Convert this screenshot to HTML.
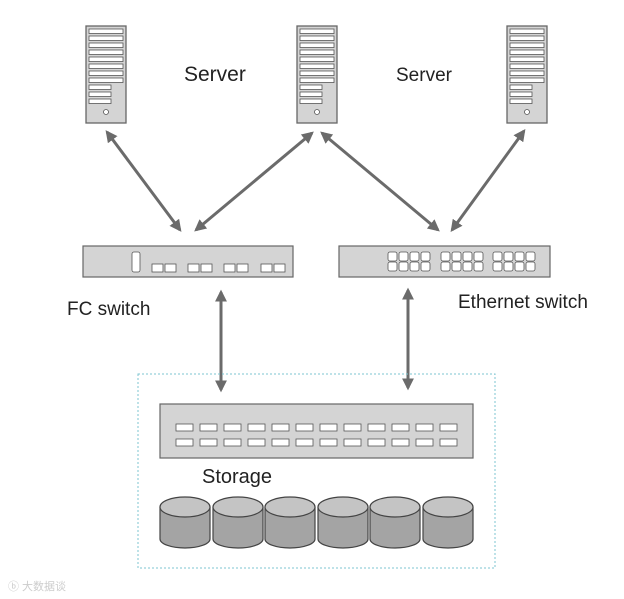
<!DOCTYPE html>
<html><head><meta charset="utf-8"><style>
html,body{margin:0;padding:0;background:#fff;}
svg{display:block}
text{font-family:"Liberation Sans","Noto Sans CJK SC",sans-serif;fill:#222}
</style></head><body>
<svg width="624" height="599" viewBox="0 0 624 599" xmlns="http://www.w3.org/2000/svg">
<defs>
<marker id="ah" viewBox="0 0 10 10" refX="8" refY="5" markerWidth="4" markerHeight="4" orient="auto-start-reverse">
<path d="M0,0 L10,5 L0,10 z" fill="#6b6b6b"/></marker>
<g id="srv">
<rect x="0" y="0" width="40" height="97" fill="#d4d4d4" stroke="#666" stroke-width="1.3"/>
<g fill="#fff" stroke="#555" stroke-width="0.8">
<rect x="3" y="3" width="34" height="4.5"/><rect x="3" y="10" width="34" height="4.5"/>
<rect x="3" y="17" width="34" height="4.5"/><rect x="3" y="24" width="34" height="4.5"/>
<rect x="3" y="31" width="34" height="4.5"/><rect x="3" y="38" width="34" height="4.5"/>
<rect x="3" y="45" width="34" height="4.5"/><rect x="3" y="52" width="34" height="4.5"/>
<rect x="3" y="59" width="22" height="4.5"/><rect x="3" y="66" width="22" height="4.5"/>
<rect x="3" y="73" width="22" height="4.5"/>
<circle cx="20" cy="86" r="2.5"/>
</g></g>
<g id="cyl">
<path d="M0,10 L0,42 A25,9 0 0 0 50,42 L50,10" fill="#a4a4a4" stroke="#444" stroke-width="1.2"/>
<ellipse cx="25" cy="10" rx="25" ry="10" fill="#c4c4c4" stroke="#444" stroke-width="1.2"/>
</g>
</defs>

<use href="#srv" x="86" y="26"/>
<use href="#srv" x="297" y="26"/>
<use href="#srv" x="507" y="26"/>

<text x="184" y="81" font-size="21">Server</text>
<text x="396" y="81" font-size="19">Server</text>

<g stroke="#6b6b6b" stroke-width="3" marker-start="url(#ah)" marker-end="url(#ah)">
<line x1="107" y1="132" x2="180" y2="230"/>
<line x1="312" y1="133" x2="196" y2="230"/>
<line x1="322" y1="133" x2="438" y2="230"/>
<line x1="524" y1="131" x2="452" y2="230"/>
<line x1="221" y1="292" x2="221" y2="390"/>
<line x1="408" y1="290" x2="408" y2="388"/>
</g>

<rect x="83" y="246" width="210" height="31" fill="#d4d4d4" stroke="#666" stroke-width="1.2"/>
<g fill="#fff" stroke="#555" stroke-width="0.8">
<rect x="132" y="252" width="8" height="20" rx="2"/>
<rect x="152" y="264" width="11" height="8"/><rect x="165" y="264" width="11" height="8"/>
<rect x="188" y="264" width="11" height="8"/><rect x="201" y="264" width="11" height="8"/>
<rect x="224" y="264" width="11" height="8"/><rect x="237" y="264" width="11" height="8"/>
<rect x="261" y="264" width="11" height="8"/><rect x="274" y="264" width="11" height="8"/>
</g>
<rect x="339" y="246" width="211" height="31" fill="#d4d4d4" stroke="#666" stroke-width="1.2"/>
<g fill="#fff" stroke="#555" stroke-width="0.8">
<rect x="388" y="252" width="9" height="9" rx="2"/><rect x="399" y="252" width="9" height="9" rx="2"/><rect x="410" y="252" width="9" height="9" rx="2"/><rect x="421" y="252" width="9" height="9" rx="2"/>
<rect x="388" y="262" width="9" height="9" rx="2"/><rect x="399" y="262" width="9" height="9" rx="2"/><rect x="410" y="262" width="9" height="9" rx="2"/><rect x="421" y="262" width="9" height="9" rx="2"/>
<rect x="441" y="252" width="9" height="9" rx="2"/><rect x="452" y="252" width="9" height="9" rx="2"/><rect x="463" y="252" width="9" height="9" rx="2"/><rect x="474" y="252" width="9" height="9" rx="2"/>
<rect x="441" y="262" width="9" height="9" rx="2"/><rect x="452" y="262" width="9" height="9" rx="2"/><rect x="463" y="262" width="9" height="9" rx="2"/><rect x="474" y="262" width="9" height="9" rx="2"/>
<rect x="493" y="252" width="9" height="9" rx="2"/><rect x="504" y="252" width="9" height="9" rx="2"/><rect x="515" y="252" width="9" height="9" rx="2"/><rect x="526" y="252" width="9" height="9" rx="2"/>
<rect x="493" y="262" width="9" height="9" rx="2"/><rect x="504" y="262" width="9" height="9" rx="2"/><rect x="515" y="262" width="9" height="9" rx="2"/><rect x="526" y="262" width="9" height="9" rx="2"/>
</g>

<text x="67" y="315" font-size="19">FC switch</text>
<text x="458" y="308" font-size="19">Ethernet switch</text>

<rect x="138" y="374" width="357" height="194" fill="none" stroke="#7cc4d0" stroke-width="1" stroke-dasharray="2,2"/>

<rect x="160" y="404" width="313" height="54" fill="#d4d4d4" stroke="#666" stroke-width="1.2"/>
<g fill="#fff" stroke="#555" stroke-width="0.8">
<g id="prow">
<rect x="176" y="424" width="17" height="7"/><rect x="200" y="424" width="17" height="7"/><rect x="224" y="424" width="17" height="7"/><rect x="248" y="424" width="17" height="7"/>
<rect x="272" y="424" width="17" height="7"/><rect x="296" y="424" width="17" height="7"/><rect x="320" y="424" width="17" height="7"/><rect x="344" y="424" width="17" height="7"/>
<rect x="368" y="424" width="17" height="7"/><rect x="392" y="424" width="17" height="7"/><rect x="416" y="424" width="17" height="7"/><rect x="440" y="424" width="17" height="7"/>
</g>
<use href="#prow" y="15"/>
</g>

<text x="202" y="483" font-size="20">Storage</text>

<use href="#cyl" x="160" y="497"/>
<use href="#cyl" x="213" y="497"/>
<use href="#cyl" x="265" y="497"/>
<use href="#cyl" x="318" y="497"/>
<use href="#cyl" x="370" y="497"/>
<use href="#cyl" x="423" y="497"/>

<text x="8" y="590" font-size="11" style="fill:#ccc">ⓑ 大数据谈</text>
</svg>
</body></html>
